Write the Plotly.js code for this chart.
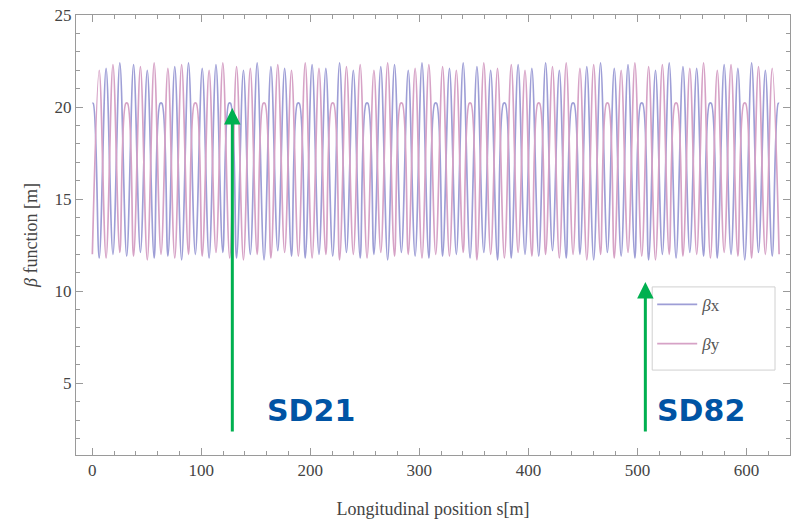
<!DOCTYPE html>
<html>
<head>
<meta charset="utf-8">
<script src="https://cdn.plot.ly/plotly-3.0.1.min.js"></script>
<style>html,body{margin:0;padding:0;background:#fff;}#chart{width:795px;height:522px;}</style>
</head>
<body>
<div id="chart"></div>
<script>
// Longitudinal positions (m) and beta values (m)
const sX = [0,0.8,6.3,12.6,18.9,25.2,31.5,37.8,44.1,50.4,56.7,62.2,63.8,69.3,75.6,81.9,88.2,94.5,100.8,107.1,113.4,119.7,125.2,126.8,132.3,138.6,144.9,151.2,157.5,163.8,170.1,176.4,182.7,188.2,189.8,195.3,201.6,207.9,214.2,220.5,226.8,233.1,239.4,245.7,251.2,252.8,258.3,264.6,270.9,277.2,283.5,289.8,296.1,302.4,308.7,314.2,315.8,321.3,327.6,333.9,340.2,346.5,352.8,359.1,365.4,371.7,377.2,378.8,384.3,390.6,396.9,403.2,409.5,415.8,422.1,428.4,434.7,440.2,441.8,447.3,453.6,459.9,466.2,472.5,478.8,485.1,491.4,497.7,503.2,504.8,510.3,516.6,522.9,529.2,535.5,541.8,548.1,554.4,560.7,566.2,567.8,573.3,579.6,585.9,592.2,598.5,604.8,611.1,617.4,623.7,629.2,630];
const betaX = [20.2,20.2,11.8,22.1,12.0,22.4,11.9,22.3,12.1,22.0,11.8,20.2,20.2,11.9,22.2,11.7,22.4,12.0,22.1,11.8,22.3,12.1,20.2,20.2,11.8,22.0,12.0,22.4,11.7,22.2,12.2,22.1,11.9,20.2,20.2,11.8,22.3,12.0,22.1,11.9,22.4,12.1,22.0,11.8,20.2,20.2,12.0,22.2,11.7,22.3,12.1,22.0,11.9,22.4,11.8,20.2,20.2,11.9,22.1,12.0,22.4,11.8,22.2,12.1,22.0,11.7,20.2,20.2,11.8,22.3,12.0,22.1,11.9,22.4,12.2,22.0,11.8,20.2,20.2,12.0,22.2,11.7,22.4,12.1,22.1,11.9,22.3,11.8,20.2,20.2,11.7,22.0,12.0,22.4,11.8,22.2,12.1,22.1,11.9,20.2,20.2,11.8,22.3,12.0,22.1,11.7,22.4,12.1,22.0,11.9,20.2,20.2];
const sY = [0,6.3,12.6,18.9,25.2,30.7,32.3,37.8,44.1,50.4,56.7,63,69.3,75.6,81.9,88.2,93.7,95.3,100.8,107.1,113.4,119.7,126,132.3,138.6,144.9,151.2,156.7,158.3,163.8,170.1,176.4,182.7,189,195.3,201.6,207.9,214.2,219.7,221.3,226.8,233.1,239.4,245.7,252,258.3,264.6,270.9,277.2,282.7,284.3,289.8,296.1,302.4,308.7,315,321.3,327.6,333.9,340.2,345.7,347.3,352.8,359.1,365.4,371.7,378,384.3,390.6,396.9,403.2,408.7,410.3,415.8,422.1,428.4,434.7,441,447.3,453.6,459.9,466.2,471.7,473.3,478.8,485.1,491.4,497.7,504,510.3,516.6,522.9,529.2,534.7,536.3,541.8,548.1,554.4,560.7,567,573.3,579.6,585.9,592.2,597.7,599.3,604.8,611.1,617.4,623.7,630];
const betaY = [12.0,22.0,11.8,22.3,12.1,20.2,20.2,11.9,22.2,11.7,22.4,12.0,22.1,11.8,22.3,12.0,20.2,20.2,11.9,22.0,12.1,22.4,11.8,22.2,11.7,22.1,12.0,20.2,20.2,11.8,22.3,12.1,22.0,11.9,22.4,11.8,22.1,12.0,20.2,20.2,11.7,22.2,12.0,22.3,11.8,22.0,12.1,22.4,11.9,20.2,20.2,12.0,22.1,11.8,22.3,12.0,22.2,11.9,22.0,12.1,20.2,20.2,11.7,22.4,12.0,22.1,11.8,22.3,12.1,22.0,11.9,20.2,20.2,12.0,22.2,11.8,22.4,12.0,22.1,11.7,22.3,12.0,20.2,20.2,11.8,22.0,12.1,22.4,11.9,22.2,11.7,22.3,12.0,20.2,20.2,11.9,22.1,12.0,22.4,11.8,22.0,12.1,22.3,11.9,20.2,20.2,11.8,22.2,12.0,22.1,12.0];
const seriesNames = ['<i>β</i>x', '<i>β</i>y'];
const xTitle = 'Longitudinal position s[m]';
const yTitle = '<i>β</i> function [m]';
// Marker annotations: labels, arrow tip (s, beta), arrow tail beta, label position
const markLabels = ['SD21', 'SD82'];
const markS = [128.4, 507.3];
const markTip = [19.95, 10.5];
const markTail = [2.3, 2.3];
const labelS = [200.9, 558.7];
const labelBeta = [3.5, 3.5];

const serif = 'Liberation Serif, Times New Roman, serif';
const traces = [
  {x: sX, y: betaX, name: seriesNames[0], type: 'scatter', mode: 'lines',
   line: {color: 'rgb(158,158,214)', width: 1.7, shape: 'spline', smoothing: 1}, legendgroup: 'a'},
  {x: sY, y: betaY, name: seriesNames[1], type: 'scatter', mode: 'lines',
   line: {color: 'rgb(214,162,198)', width: 1.7, shape: 'spline', smoothing: 1}, legendgroup: 'b'}
];
const annotations = [];
for (let i = 0; i < markLabels.length; i++) {
  annotations.push({x: markS[i], y: markTip[i], xref: 'x', yref: 'y', axref: 'x', ayref: 'y',
    ax: markS[i], ay: markTail[i], showarrow: true, arrowhead: 2, arrowsize: 1.1, arrowwidth: 3,
    arrowcolor: 'rgb(0,176,80)', text: ''});
  annotations.push({x: labelS[i], y: labelBeta[i], xref: 'x', yref: 'y', showarrow: false,
    text: '<b>' + markLabels[i] + '</b>',
    font: {family: 'DejaVu Sans, Arial, sans-serif', size: 30, color: 'rgb(0,84,164)'}});
}
const axisCommon = {
  showgrid: false, zeroline: false, showline: true, linecolor: '#9a9a9a', linewidth: 1,
  mirror: 'allticks', ticks: 'inside', ticklen: 7, tickcolor: '#9a9a9a', tickwidth: 1,
  tickfont: {family: serif, size: 17, color: '#444'}
};
const layout = {
  width: 795, height: 522,
  margin: {l: 76, r: 5, t: 15, b: 67},
  paper_bgcolor: '#fff', plot_bgcolor: '#fff',
  showlegend: true,
  xaxis: Object.assign({}, axisCommon, {range: [-15, 640], dtick: 100, tick0: 0,
    minor: {dtick: 20, ticks: 'inside', ticklen: 4, tickcolor: '#9a9a9a'},
    title: {text: xTitle, font: {family: serif, size: 18, color: '#444'}, standoff: 22}}),
  yaxis: Object.assign({}, axisCommon, {range: [1.1, 25], dtick: 5, tick0: 0,
    minor: {dtick: 1, ticks: 'inside', ticklen: 4, tickcolor: '#9a9a9a'},
    title: {text: yTitle, font: {family: serif, size: 18, color: '#444'}, standoff: 12}}),
  legend: {x: 0.807, y: 0.382, xanchor: 'left', yanchor: 'top', bgcolor: 'rgba(0,0,0,0)',
    borderwidth: 0, font: {family: serif, size: 17, color: '#555'},
    traceorder: 'grouped', tracegroupgap: 14, itemwidth: 40},
  shapes: [{type: 'rect', xref: 'paper', yref: 'paper', x0: 0.807, x1: 0.979, y0: 0.193, y1: 0.382,
    line: {color: '#d0d0d0', width: 1}, fillcolor: '#fff', layer: 'below'}],
  annotations: annotations
};
Plotly.newPlot('chart', traces, layout, {displayModeBar: false, staticPlot: true});
</script>
</body>
</html>
